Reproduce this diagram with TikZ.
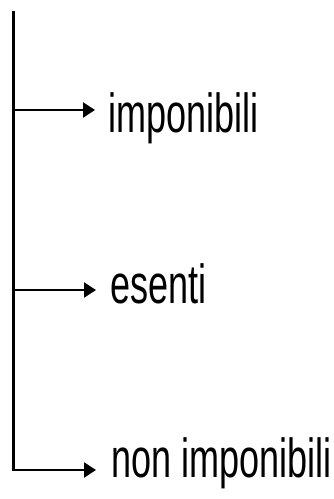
\documentclass[tikz,border=0pt]{standalone}
\usepackage{fontspec}
\setmainfont[FakeStretch=0.655]{Liberation Sans}
\usetikzlibrary{arrows.meta}
\begin{document}
\begin{tikzpicture}[x=1pt,y=1pt,
  branch/.style={line width=2.3pt,-{Triangle[length=12pt,width=15pt]}},
  trunk/.style={line width=2.3pt},
  catlabel/.style={anchor=base west,inner sep=0pt,font=\fontsize{55}{58}\selectfont}]
\useasboundingbox (0,0) rectangle (334,-499);
% category labels
\node[catlabel] (imp) at (108,-132) {imponibili};
\node[catlabel] (ese) at (110,-303) {esenti};
\node[catlabel] (non) at (111,-477) {non imponibili};
% branch points on the trunk
\coordinate (top) at (13.5,-11);
\coordinate (b1) at (13.5,-110);
\coordinate (b2) at (13.5,-290);
\coordinate (b3) at (13.5,-470);
\draw[trunk] (top) -- ([yshift=-1.15pt]b3);
\draw[branch] (b1) -- ([xshift=-13pt]b1 -| imp.west);
\draw[branch] (b2) -- ([xshift=-14pt]b2 -| ese.west);
\draw[branch] ([xshift=-1.15pt]b3) -- ([xshift=-15pt]b3 -| non.west);
\end{tikzpicture}
\end{document}
